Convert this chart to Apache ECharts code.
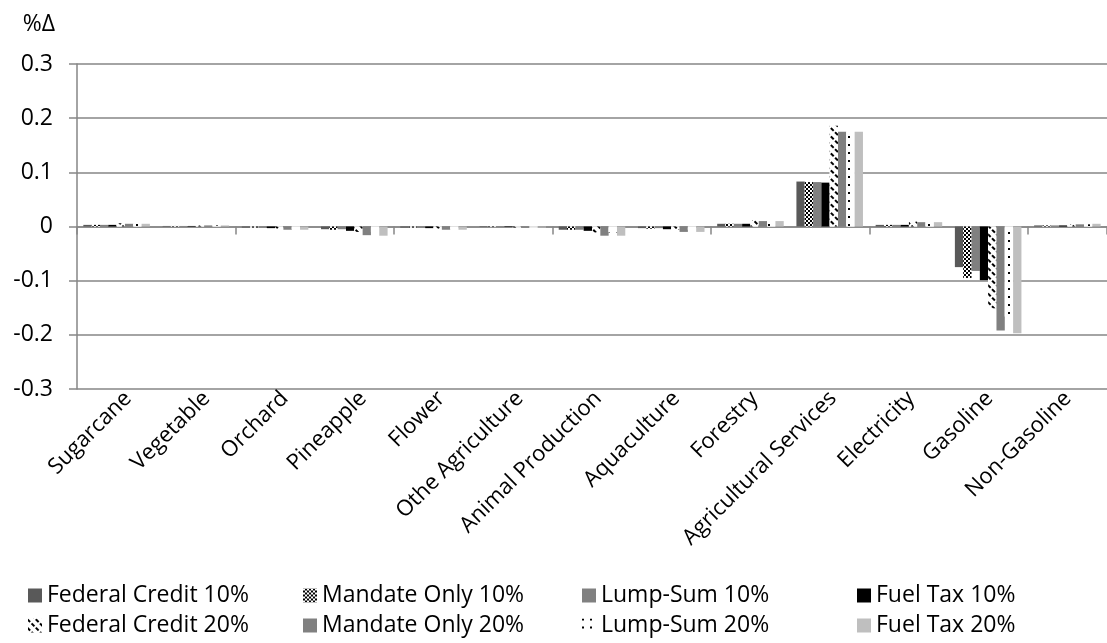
<!DOCTYPE html>
<html>
<head>
<meta charset="utf-8">
<script src="https://cdn.jsdelivr.net/npm/echarts@6/dist/echarts.min.js"></script>
<style>
html,body{margin:0;padding:0;background:#fff;}
#chart{width:1107px;height:643px;}
</style>
</head>
<body>
<div id="chart"></div>
<script>
const categories = ["Sugarcane","Vegetable","Orchard","Pineapple","Flower","Othe Agriculture","Animal Production","Aquaculture","Forestry","Agricultural Services","Electricity","Gasoline","Non-Gasoline"];
const seriesNames = ["Federal Credit 10%","Mandate Only 10%","Lump-Sum 10%","Fuel Tax 10%","Federal Credit 20%","Mandate Only 20%","Lump-Sum 20%","Fuel Tax 20%"];
const yTicks = [-0.3,-0.2,-0.1,0,0.1,0.2,0.3];

const fedCredit10  = [0.003, 0.001, -0.002, -0.005, -0.002, -0.001, -0.006, -0.003, 0.005, 0.083, 0.003, -0.075, 0.002];
const mandate10    = [0.003, 0.001, -0.002, -0.006, -0.002, -0.001, -0.006, -0.004, 0.005, 0.082, 0.003, -0.095, 0.002];
const lumpSum10    = [0.003, 0.001, -0.002, -0.005, -0.002, -0.001, -0.006, -0.003, 0.005, 0.082, 0.003, -0.082, 0.002];
const fuelTax10    = [0.003, 0.001, -0.003, -0.008, -0.003, -0.001, -0.008, -0.005, 0.005, 0.081, 0.003, -0.099, 0.002];
const fedCredit20  = [0.006, 0.002, -0.004, -0.010, -0.004, -0.002, -0.011, -0.006, 0.012, 0.186, 0.009, -0.151, 0.004];
const mandate20    = [0.005, 0.002, -0.006, -0.016, -0.006, -0.002, -0.017, -0.010, 0.010, 0.175, 0.008, -0.192, 0.004];
const lumpSum20    = [0.005, 0.002, -0.004, -0.010, -0.004, -0.002, -0.011, -0.006, 0.012, 0.175, 0.008, -0.166, 0.004];
const fuelTax20    = [0.005, 0.002, -0.006, -0.017, -0.006, -0.002, -0.017, -0.010, 0.010, 0.175, 0.008, -0.197, 0.005];

const seriesData = [fedCredit10, mandate10, lumpSum10, fuelTax10, fedCredit20, mandate20, lumpSum20, fuelTax20];

const FONT = "'Open Sans', 'Liberation Sans', sans-serif";

const styles = [
  {color:'#595959'},
  {color:'#ffffff', decal:{symbol:'rect', symbolSize:1, dashArrayX:[[2,2],[0,2,2,0]], dashArrayY:[2,0], color:'#000000', backgroundColor:'#ffffff'}},
  {color:'#808080'},
  {color:'#000000'},
  {color:'#ffffff', decal:{symbol:'rect', symbolSize:1, dashArrayX:[4,2], dashArrayY:[1.6,3.2], rotation:Math.PI/4, color:'#000000', backgroundColor:'#ffffff'}},
  {color:'#808080'},
  {color:'#ffffff', decal:{symbol:'rect', symbolSize:1, dashArrayX:[2,6], dashArrayY:[2,6], color:'#000000', backgroundColor:'#ffffff'}},
  {color:'#bfbfbf'}
];

const chart = echarts.init(document.getElementById('chart'), null, {renderer:'canvas'});

const series = seriesNames.map((n,i)=>({
  name:n,
  type:'bar',
  xAxisIndex:0,
  yAxisIndex:0,
  data:seriesData[i],
  barGap:'0%',
  barCategoryGap:'16%',
  itemStyle:styles[i],
  emphasis:{disabled:true}
}));

const legendCols = [[0,4],[1,5],[2,6],[3,7]];
const legendLeft = [23, 298, 577, 852];
const legends = legendCols.map((c,k)=>({
  orient:'vertical',
  left:legendLeft[k],
  top:579,
  itemWidth:14,
  itemHeight:14,
  itemGap:7,
  icon:'rect',
  selectedMode:false,
  data:c.map(i=>seriesNames[i]),
  textStyle:{fontFamily:FONT, fontSize:23, color:'#000'}
}));

chart.setOption({
  animation:false,
  aria:{enabled:false},
  grid:[
    {left:77, top:64, width:1036, height:325},
    {left:89, top:64, width:1036, height:325}
  ],
  legend:legends,
  xAxis:[
    {
      type:'category',
      gridIndex:0,
      data:categories,
      position:'bottom',
      axisLine:{show:true, onZero:true, lineStyle:{color:'#868686', width:1.5}},
      axisTick:{show:true, length:8, inside:false, lineStyle:{color:'#868686', width:1.5}},
      axisLabel:{show:false},
      splitLine:{show:false}
    },
    {
      type:'category',
      gridIndex:1,
      data:categories,
      position:'bottom',
      axisLine:{show:false, onZero:false},
      axisTick:{show:false},
      axisLabel:{rotate:45, fontFamily:FONT, fontSize:22, color:'#000', margin:6, interval:0},
      splitLine:{show:false}
    }
  ],
  yAxis:[
    {
      type:'value',
      gridIndex:0,
      min:-0.3, max:0.3, interval:0.1,
      name:'%Δ',
      nameLocation:'end',
      nameGap:28,
      nameTextStyle:{fontFamily:FONT, fontSize:23, color:'#000', align:'right', padding:[0,22,0,0]},
      axisLine:{show:true, lineStyle:{color:'#868686', width:1.5}},
      axisTick:{show:true, length:8, lineStyle:{color:'#868686', width:1.5}},
      axisLabel:{fontFamily:FONT, fontSize:23, color:'#000', margin:24, formatter:v=>String(+v.toFixed(1))},
      splitLine:{show:true, lineStyle:{color:'#868686', width:1.5}}
    },
    {
      type:'value',
      gridIndex:1,
      min:-0.3, max:0.3, interval:0.1,
      show:false
    }
  ],
  series:series
});
</script>
</body>
</html>
